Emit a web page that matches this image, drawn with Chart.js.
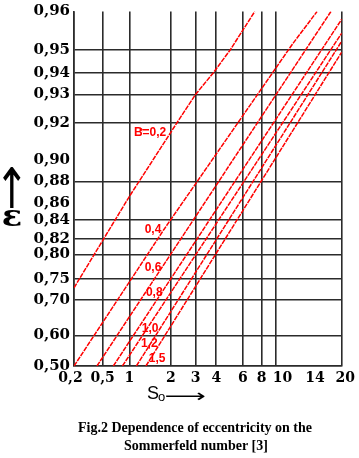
<!DOCTYPE html>
<html><head><meta charset="utf-8">
<script src="https://cdn.jsdelivr.net/npm/chart.js@4.4.0/dist/chart.umd.min.js"></script>
<style>html,body{margin:0;padding:0;background:#fff;}#wrap{position:relative;width:359px;height:458px;}</style>
</head><body><div id="wrap"><canvas id="c" width="359" height="458"></canvas></div>
<script>
// ---- data ----
const X_TICKS = [0.2, 0.5, 1, 2, 3, 4, 6, 8, 10, 14, 20];
const Y_TICKS = [0.50, 0.60, 0.70, 0.75, 0.80, 0.82, 0.84, 0.86, 0.88, 0.90, 0.92, 0.93, 0.94, 0.95, 0.96];
const X_NO_GRID = [14];
const Y_NO_GRID = [0.86, 0.90, 0.96];
const CURVE_NAMES = ['B*=0,2', '0,4', '0,6', '0,8', '1,0', '1,2', '1,5'];
const SO_02 = [0.2, 1, 2.24, 3, 3.86, 5.04, 7.26];
const EPS_02 = [0.729, 0.866, 0.92, 0.93, 0.94, 0.95, 0.96];
const SO_04 = [0.2, 1.83, 11.7, 14.44];
const EPS_04 = [0.50, 0.8295, 0.9515, 0.96];
const SO_06 = [0.44, 17.56];
const EPS_06 = [0.50, 0.96];
const SO_08 = [0.70, 20];
const EPS_08 = [0.50, 0.958];
const SO_10 = [0.87, 20];
const EPS_10 = [0.50, 0.9544];
const SO_12 = [1.17, 20];
const EPS_12 = [0.50, 0.9523];
const SO_15 = [1.40, 20];
const EPS_15 = [0.50, 0.9491];
const LABEL_SO = [1.5, 1.57, 1.57, 1.6, 1.5, 1.48, 1.67];
const LABEL_EPS = [0.9145, 0.829, 0.774, 0.717, 0.619, 0.574, 0.523];

// ---- a scale whose ticks sit at the nomogram's own (uneven) grid spacing ----
class KnotScale extends Chart.LinearScale {
  buildTicks() { return this.options.knots.map(v => ({ value: v })); }
  _frac(v) {
    const k = this.options.knots, f = this.options.fracs;
    let i = 0;
    while (i < k.length - 2 && v > k[i + 1]) i++;
    return f[i] + (f[i + 1] - f[i]) * (v - k[i]) / (k[i + 1] - k[i]);
  }
  getPixelForValue(v) {
    const f = this._frac(v);
    return this.isHorizontal() ? this.left + f * this.width : this.bottom - f * this.height;
  }
  getValueForPixel(p) {
    const fr = this.isHorizontal() ? (p - this.left) / this.width : (this.bottom - p) / this.height;
    const k = this.options.knots, f = this.options.fracs;
    let i = 0;
    while (i < k.length - 2 && fr > f[i + 1]) i++;
    return k[i] + (k[i + 1] - k[i]) * (fr - f[i]) / (f[i + 1] - f[i]);
  }
}
KnotScale.id = 'knot';
KnotScale.defaults = { ticks: { callback: v => String(v) } };
Chart.register(KnotScale);

function pts(xs, ys) { return xs.map((x, i) => ({ x: x, y: ys[i] })); }
const SERIES = [[SO_02, EPS_02], [SO_04, EPS_04], [SO_06, EPS_06], [SO_08, EPS_08], [SO_10, EPS_10], [SO_12, EPS_12], [SO_15, EPS_15]];
const RED = '#ff0000';
const GRID = '#2b2b2b';
const EN = '\u2002';

// draw a glyph so that its ink fills the given box
function fitText(ctx, txt, font, x0, y0, x1, y1) {
  ctx.save();
  ctx.font = font;
  ctx.textAlign = 'left';
  ctx.textBaseline = 'alphabetic';
  const m = ctx.measureText(txt);
  const w = m.actualBoundingBoxLeft + m.actualBoundingBoxRight;
  const h = m.actualBoundingBoxAscent + m.actualBoundingBoxDescent;
  ctx.translate(x0, y0);
  ctx.scale((x1 - x0) / w, (y1 - y0) / h);
  ctx.fillText(txt, m.actualBoundingBoxLeft, m.actualBoundingBoxAscent);
  ctx.restore();
}

const decor = {
  id: 'decor',
  afterDatasetsDraw(chart) {
    const ctx = chart.ctx, xs = chart.scales.x, ys = chart.scales.y;
    ctx.save();
    ctx.fillStyle = RED;
    ctx.textBaseline = 'middle';
    ctx.textAlign = 'center';
    const F = 'bold 12px "Liberation Sans"', FS = 'bold 9px "Liberation Sans"';
    CURVE_NAMES.forEach((t, i) => {
      const px = xs.getPixelForValue(LABEL_SO[i]), py = ys.getPixelForValue(LABEL_EPS[i]);
      if (t.startsWith('B*')) {
        ctx.font = F;
        const rest = t.slice(2);
        const wB = ctx.measureText('B').width, wR = ctx.measureText(rest).width;
        let x0 = px - (wB + wR) / 2;
        ctx.textAlign = 'left';
        ctx.fillText('B', x0, py);
        ctx.fillText(rest, x0 + wB, py);
        ctx.font = FS;
        ctx.textBaseline = 'alphabetic';
        ctx.fillText('*', x0 + wB - 3, py + 1);
        ctx.textBaseline = 'middle';
        ctx.textAlign = 'center';
      } else {
        ctx.font = F;
        ctx.fillText(t, px, py);
      }
    });
    ctx.restore();
  },
  afterDraw(chart) {
    const ctx = chart.ctx;
    ctx.save();
    ctx.fillStyle = '#000';
    // y axis title
    fitText(ctx, '\u2191', '30px "DejaVu Sans"', 3, 167, 22, 208);
    fitText(ctx, '\u03b5', 'bold 28px "DejaVu Serif"', 3, 210, 21, 226);
    // x axis title
    ctx.textAlign = 'left';
    ctx.textBaseline = 'middle';
    ctx.font = '18px "Liberation Sans"';
    ctx.fillText('S', 147, 394);
    ctx.font = '13px "Liberation Sans"';
    ctx.fillText('o', 158, 397);
    fitText(ctx, '\u27f6', '20px "DejaVu Sans"', 166, 392, 205, 401);
    // caption
    ctx.textAlign = 'center';
    ctx.font = 'bold 14px "Liberation Serif"';
    ctx.fillText('Fig.2 Dependence of eccentricity on the', 195, 428);
    ctx.fillText('Sommerfeld number [3]', 196, 446);
    ctx.restore();
  }
};

new Chart(document.getElementById('c'), {
  type: 'line',
  data: {
    datasets: SERIES.map((s, i) => ({
      label: CURVE_NAMES[i],
      data: pts(s[0], s[1]),
      borderColor: RED,
      borderWidth: 1.5,
      borderDash: [5, 1],
      pointRadius: 0,
      tension: 0,
      fill: false
    }))
  },
  options: {
    responsive: false,
    animation: false,
    events: [],
    layout: { padding: { top: 7, right: 14, left: 0, bottom: 0 } },
    plugins: { legend: { display: false }, tooltip: { enabled: false }, title: { display: false } },
    scales: {
      x: {
        type: 'knot', position: 'bottom', min: 0.2, max: 20,
        knots: X_TICKS,
        fracs: [0, 0.107, 0.2066, 0.3616, 0.4539, 0.5314, 0.631, 0.7011, 0.7528, 0.9004, 1],
        grid: { color: c => (c.tick && X_NO_GRID.includes(c.tick.value)) ? 'rgba(0,0,0,0)' : GRID, lineWidth: 1.6, drawTicks: false },
        border: { display: true, color: GRID, width: 1.6 },
        ticks: {
          autoSkip: false, maxRotation: 0, minRotation: 0, padding: 4, color: '#000',
          font: { family: '"DejaVu Serif"', weight: 'bold', size: 14 },
          callback: v => {
            const s = String(v).replace('.', ',');
            if (v === 0.2) return s + EN;
            if (v === 10) return EN + EN + s;
            if (v === 20) return EN + s;
            return s;
          }
        },
        afterFit: s => { s.height = 92; }
      },
      y: {
        type: 'knot', position: 'left', min: 0.5, max: 0.96,
        knots: Y_TICKS,
        fracs: [0, 0.0864, 0.1866, 0.2451, 0.3148, 0.3593, 0.4123, 0.4596, 0.5209, 0.5822, 0.6852, 0.766, 0.8273, 0.8914, 1],
        grid: { color: c => (c.tick && Y_NO_GRID.includes(c.tick.value)) ? 'rgba(0,0,0,0)' : GRID, lineWidth: 1.6, drawTicks: false },
        border: { display: true, color: GRID, width: 1.6 },
        ticks: {
          autoSkip: false, padding: 4, color: '#000',
          font: { family: '"DejaVu Serif"', weight: 'bold', size: 15, lineHeight: 1 },
          callback: v => v.toFixed(2).replace('.', ',')
        },
        afterFit: s => { s.width = 74; }
      }
    }
  },
  plugins: [decor]
});
</script></body></html>
